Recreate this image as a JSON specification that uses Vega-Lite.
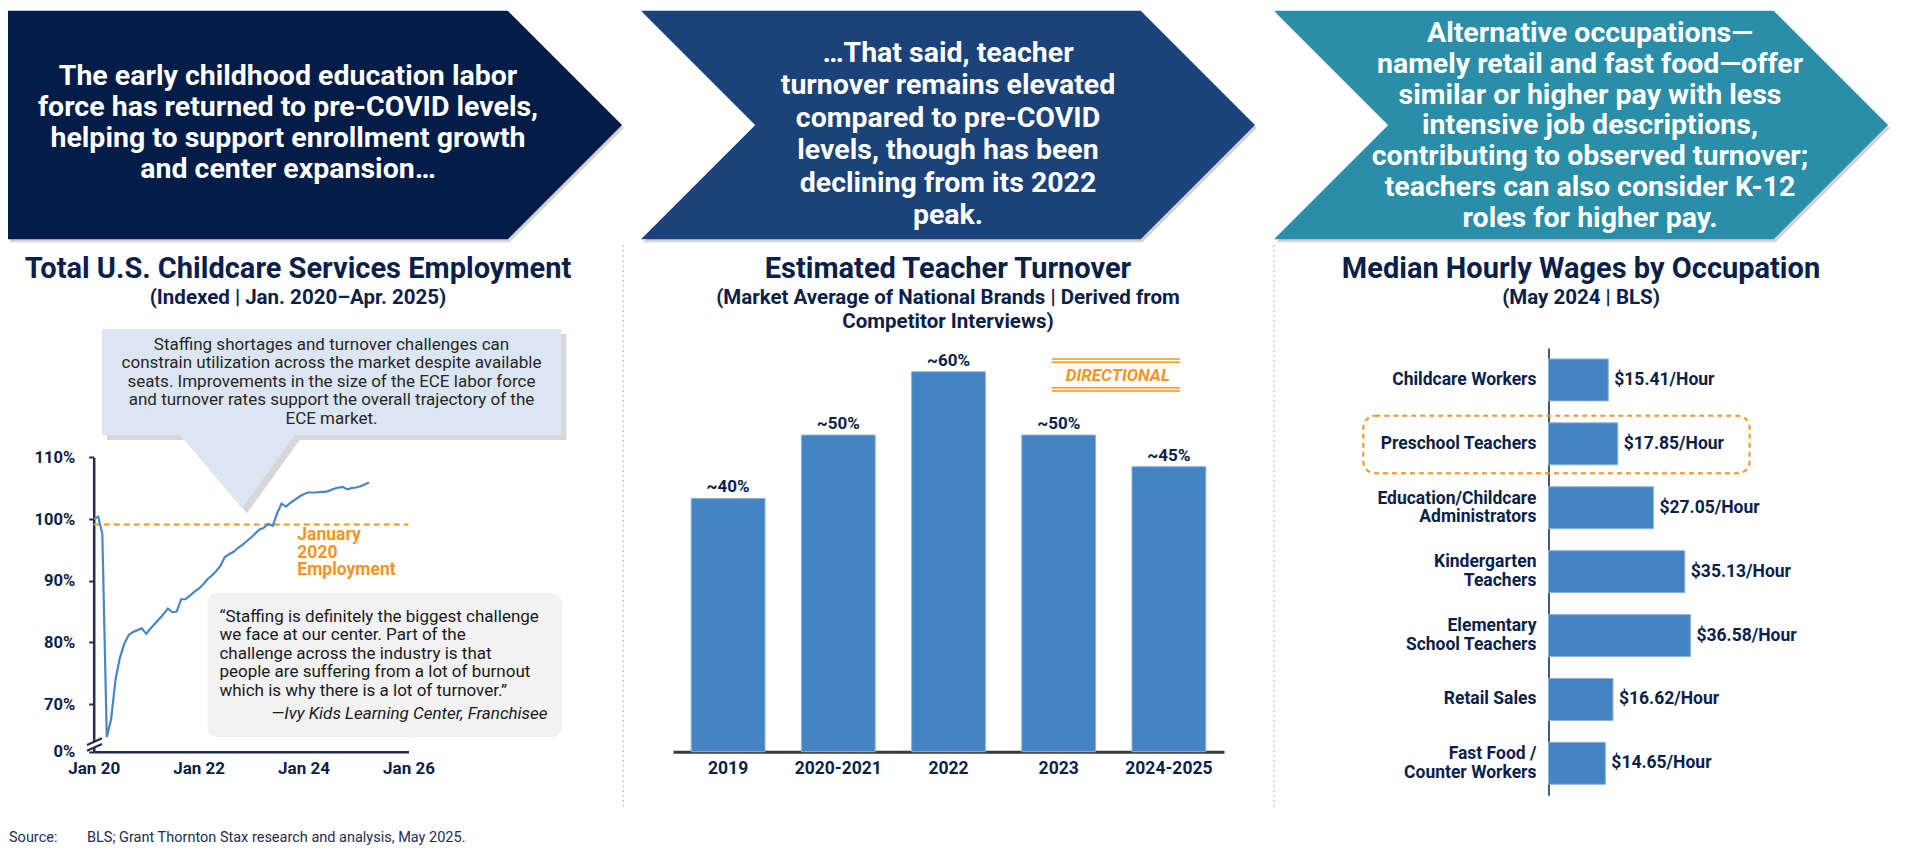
{
"$schema": "https://vega.github.io/schema/vega-lite/v6.json",
"width": 1920, "height": 855, "autosize": "none", "padding": 0, "background": "white",
"config": {"font": "Roboto", "view": {"stroke": null}, "axis": {"grid": false, "labelFont": "Roboto"}},
"resolve": {"scale": {"x": "independent", "y": "independent"}, "axis": {"x": "independent", "y": "independent"}},
"layer": [
{
"data": {"values": [{}]},
"layer": [
{"mark": {"type": "point", "shape": "M-1,-0.3723L0.6277,-0.3723L1,0L0.6277,0.3723L-1,0.3723Z", "size": 376996, "filled": true, "color": "#808080", "opacity": 0.35, "strokeWidth": 0, "xOffset": 2, "yOffset": 3},
 "encoding": {"x": {"datum": 315, "type": "quantitative", "scale": {"domain": [0,1920], "range": [0,1920], "nice": false, "zero": false}, "axis": null}, "y": {"datum": 125, "type": "quantitative", "scale": {"domain": [0,855], "range": [0,855], "nice": false, "zero": false}, "axis": null}}},
{"mark": {"type": "point", "shape": "M-1,-0.3723L0.6277,-0.3723L1,0L0.6277,0.3723L-1,0.3723L-0.6277,0Z", "size": 376996, "filled": true, "color": "#808080", "opacity": 0.35, "strokeWidth": 0, "xOffset": 2, "yOffset": 3},
 "encoding": {"x": {"datum": 948, "type": "quantitative", "scale": {"domain": [0,1920], "range": [0,1920], "nice": false, "zero": false}, "axis": null}, "y": {"datum": 125, "type": "quantitative", "scale": {"domain": [0,855], "range": [0,855], "nice": false, "zero": false}, "axis": null}}},
{"mark": {"type": "point", "shape": "M-1,-0.3723L0.6277,-0.3723L1,0L0.6277,0.3723L-1,0.3723L-0.6277,0Z", "size": 376996, "filled": true, "color": "#808080", "opacity": 0.35, "strokeWidth": 0, "xOffset": 2, "yOffset": 3},
 "encoding": {"x": {"datum": 1581, "type": "quantitative", "scale": {"domain": [0,1920], "range": [0,1920], "nice": false, "zero": false}, "axis": null}, "y": {"datum": 125, "type": "quantitative", "scale": {"domain": [0,855], "range": [0,855], "nice": false, "zero": false}, "axis": null}}},
{"mark": {"type": "point", "shape": "M-1,-0.3723L0.6277,-0.3723L1,0L0.6277,0.3723L-1,0.3723Z", "size": 376996, "filled": true, "color": "#031c48", "opacity": 1, "strokeWidth": 0},
 "encoding": {"x": {"datum": 315, "type": "quantitative", "scale": {"domain": [0,1920], "range": [0,1920], "nice": false, "zero": false}, "axis": null}, "y": {"datum": 125, "type": "quantitative", "scale": {"domain": [0,855], "range": [0,855], "nice": false, "zero": false}, "axis": null}}},
{"mark": {"type": "point", "shape": "M-1,-0.3723L0.6277,-0.3723L1,0L0.6277,0.3723L-1,0.3723L-0.6277,0Z", "size": 376996, "filled": true, "color": "#1b4279", "opacity": 1, "strokeWidth": 0},
 "encoding": {"x": {"datum": 948, "type": "quantitative", "scale": {"domain": [0,1920], "range": [0,1920], "nice": false, "zero": false}, "axis": null}, "y": {"datum": 125, "type": "quantitative", "scale": {"domain": [0,855], "range": [0,855], "nice": false, "zero": false}, "axis": null}}},
{"mark": {"type": "point", "shape": "M-1,-0.3723L0.6277,-0.3723L1,0L0.6277,0.3723L-1,0.3723L-0.6277,0Z", "size": 376996, "filled": true, "color": "#2a8ea8", "opacity": 1, "strokeWidth": 0},
 "encoding": {"x": {"datum": 1581, "type": "quantitative", "scale": {"domain": [0,1920], "range": [0,1920], "nice": false, "zero": false}, "axis": null}, "y": {"datum": 125, "type": "quantitative", "scale": {"domain": [0,855], "range": [0,855], "nice": false, "zero": false}, "axis": null}}},
{"mark": {"type": "text", "text": ["The early childhood education labor", "force has returned to pre-COVID levels,", "helping to support enrollment growth", "and center expansion…"], "align": "center", "baseline": "alphabetic", "lineHeight": 31, "fontSize": 28.5, "fontWeight": "bold", "color": "#ffffff"},
 "encoding": {"x": {"datum": 288, "type": "quantitative", "scale": {"domain": [0,1920], "range": [0,1920], "nice": false, "zero": false}, "axis": null}, "y": {"datum": 85, "type": "quantitative", "scale": {"domain": [0,855], "range": [0,855], "nice": false, "zero": false}, "axis": null}}},
{"mark": {"type": "text", "text": ["…That said, teacher", "turnover remains elevated", "compared to pre-COVID", "levels, though has been", "declining from its 2022", "peak."], "align": "center", "baseline": "alphabetic", "lineHeight": 32.4, "fontSize": 28.5, "fontWeight": "bold", "color": "#ffffff"},
 "encoding": {"x": {"datum": 948, "type": "quantitative", "scale": {"domain": [0,1920], "range": [0,1920], "nice": false, "zero": false}, "axis": null}, "y": {"datum": 62, "type": "quantitative", "scale": {"domain": [0,855], "range": [0,855], "nice": false, "zero": false}, "axis": null}}},
{"mark": {"type": "text", "text": ["Alternative occupations—", "namely retail and fast food—offer", "similar or higher pay with less", "intensive job descriptions,", "contributing to observed turnover;", "teachers can also consider K-12", "roles for higher pay."], "align": "center", "baseline": "alphabetic", "lineHeight": 30.8, "fontSize": 28.5, "fontWeight": "bold", "color": "#ffffff"},
 "encoding": {"x": {"datum": 1590, "type": "quantitative", "scale": {"domain": [0,1920], "range": [0,1920], "nice": false, "zero": false}, "axis": null}, "y": {"datum": 42, "type": "quantitative", "scale": {"domain": [0,855], "range": [0,855], "nice": false, "zero": false}, "axis": null}}},
{"mark": {"type": "text", "text": "Total U.S. Childcare Services Employment", "align": "center", "baseline": "alphabetic", "fontSize": 29, "fontWeight": "bold", "color": "#0b1f4a"},
 "encoding": {"x": {"datum": 298, "type": "quantitative", "scale": {"domain": [0,1920], "range": [0,1920], "nice": false, "zero": false}, "axis": null}, "y": {"datum": 277.7, "type": "quantitative", "scale": {"domain": [0,855], "range": [0,855], "nice": false, "zero": false}, "axis": null}}},
{"mark": {"type": "text", "text": "Estimated Teacher Turnover", "align": "center", "baseline": "alphabetic", "fontSize": 29, "fontWeight": "bold", "color": "#0b1f4a"},
 "encoding": {"x": {"datum": 948, "type": "quantitative", "scale": {"domain": [0,1920], "range": [0,1920], "nice": false, "zero": false}, "axis": null}, "y": {"datum": 277.7, "type": "quantitative", "scale": {"domain": [0,855], "range": [0,855], "nice": false, "zero": false}, "axis": null}}},
{"mark": {"type": "text", "text": "Median Hourly Wages by Occupation", "align": "center", "baseline": "alphabetic", "fontSize": 29, "fontWeight": "bold", "color": "#0b1f4a"},
 "encoding": {"x": {"datum": 1581, "type": "quantitative", "scale": {"domain": [0,1920], "range": [0,1920], "nice": false, "zero": false}, "axis": null}, "y": {"datum": 277.7, "type": "quantitative", "scale": {"domain": [0,855], "range": [0,855], "nice": false, "zero": false}, "axis": null}}},
{"mark": {"type": "text", "text": "(Indexed | Jan. 2020–Apr. 2025)", "align": "center", "baseline": "alphabetic", "fontSize": 20.5, "fontWeight": "bold", "color": "#0b1f4a"},
 "encoding": {"x": {"datum": 298, "type": "quantitative", "scale": {"domain": [0,1920], "range": [0,1920], "nice": false, "zero": false}, "axis": null}, "y": {"datum": 303.5, "type": "quantitative", "scale": {"domain": [0,855], "range": [0,855], "nice": false, "zero": false}, "axis": null}}},
{"mark": {"type": "text", "text": ["(Market Average of National Brands | Derived from", "Competitor Interviews)"], "align": "center", "baseline": "alphabetic", "lineHeight": 23.5, "fontSize": 20.5, "fontWeight": "bold", "color": "#0b1f4a"},
 "encoding": {"x": {"datum": 948, "type": "quantitative", "scale": {"domain": [0,1920], "range": [0,1920], "nice": false, "zero": false}, "axis": null}, "y": {"datum": 304, "type": "quantitative", "scale": {"domain": [0,855], "range": [0,855], "nice": false, "zero": false}, "axis": null}}},
{"mark": {"type": "text", "text": "(May 2024 | BLS)", "align": "center", "baseline": "alphabetic", "fontSize": 20.5, "fontWeight": "bold", "color": "#0b1f4a"},
 "encoding": {"x": {"datum": 1581, "type": "quantitative", "scale": {"domain": [0,1920], "range": [0,1920], "nice": false, "zero": false}, "axis": null}, "y": {"datum": 303.5, "type": "quantitative", "scale": {"domain": [0,855], "range": [0,855], "nice": false, "zero": false}, "axis": null}}},
{"mark": {"type": "rule", "color": "#c4c4c4", "strokeWidth": 1.3, "strokeDash": [2, 3]},
 "encoding": {"x": {"datum": 623.3, "type": "quantitative", "scale": {"domain": [0,1920], "range": [0,1920], "nice": false, "zero": false}, "axis": null}, "y": {"datum": 245, "type": "quantitative", "scale": {"domain": [0,855], "range": [0,855], "nice": false, "zero": false}, "axis": null}, "y2": {"datum": 808}}},
{"mark": {"type": "rule", "color": "#c4c4c4", "strokeWidth": 1.3, "strokeDash": [2, 3]},
 "encoding": {"x": {"datum": 1274, "type": "quantitative", "scale": {"domain": [0,1920], "range": [0,1920], "nice": false, "zero": false}, "axis": null}, "y": {"datum": 245, "type": "quantitative", "scale": {"domain": [0,855], "range": [0,855], "nice": false, "zero": false}, "axis": null}, "y2": {"datum": 808}}},
{"mark": {"type": "point", "shape": "M-0.919,-0.284L0.919,-0.284L0.919,0.14L-0.1486,0.14L-0.359,0.4332L-0.607,0.14L-0.919,0.14Z", "size": 250000, "filled": true, "color": "#a6a6a6", "opacity": 0.45, "strokeWidth": 0, "xOffset": 5, "yOffset": 5},
 "encoding": {"x": {"datum": 331.75, "type": "quantitative", "scale": {"domain": [0,1920], "range": [0,1920], "nice": false, "zero": false}, "axis": null}, "y": {"datum": 400, "type": "quantitative", "scale": {"domain": [0,855], "range": [0,855], "nice": false, "zero": false}, "axis": null}}},
{"mark": {"type": "point", "shape": "M-0.919,-0.284L0.919,-0.284L0.919,0.14L-0.1486,0.14L-0.359,0.4332L-0.607,0.14L-0.919,0.14Z", "size": 250000, "filled": true, "color": "#dce6f2", "opacity": 1, "strokeWidth": 0},
 "encoding": {"x": {"datum": 331.75, "type": "quantitative", "scale": {"domain": [0,1920], "range": [0,1920], "nice": false, "zero": false}, "axis": null}, "y": {"datum": 400, "type": "quantitative", "scale": {"domain": [0,855], "range": [0,855], "nice": false, "zero": false}, "axis": null}}},
{"mark": {"type": "text", "text": ["Staffing shortages and turnover challenges can", "constrain utilization across the market despite available", "seats. Improvements in the size of the ECE labor force", "and turnover rates support the overall trajectory of the", "ECE market."], "align": "center", "baseline": "alphabetic", "lineHeight": 18.6, "fontSize": 17, "color": "#262626"},
 "encoding": {"x": {"datum": 331.5, "type": "quantitative", "scale": {"domain": [0,1920], "range": [0,1920], "nice": false, "zero": false}, "axis": null}, "y": {"datum": 349.5, "type": "quantitative", "scale": {"domain": [0,855], "range": [0,855], "nice": false, "zero": false}, "axis": null}}},
{"mark": {"type": "rect", "color": "#a6a6a6", "opacity": 0.45, "cornerRadius": 9, "xOffset": 4, "yOffset": 4},
 "encoding": {"x": {"datum": 207.6, "type": "quantitative", "scale": {"domain": [0,1920], "range": [0,1920], "nice": false, "zero": false}, "axis": null}, "x2": {"datum": 561.5}, "y": {"datum": 593.3, "type": "quantitative", "scale": {"domain": [0,855], "range": [0,855], "nice": false, "zero": false}, "axis": null}, "y2": {"datum": 736.7}}},
{"mark": {"type": "rect", "color": "#f2f2f2", "opacity": 1, "cornerRadius": 9},
 "encoding": {"x": {"datum": 207.6, "type": "quantitative", "scale": {"domain": [0,1920], "range": [0,1920], "nice": false, "zero": false}, "axis": null}, "x2": {"datum": 561.5}, "y": {"datum": 593.3, "type": "quantitative", "scale": {"domain": [0,855], "range": [0,855], "nice": false, "zero": false}, "axis": null}, "y2": {"datum": 736.7}}},
{"mark": {"type": "text", "text": ["“Staffing is definitely the biggest challenge", "we face at our center. Part of the", "challenge across the industry is that", "people are suffering from a lot of burnout", "which is why there is a lot of turnover.”"], "align": "left", "baseline": "alphabetic", "lineHeight": 18.6, "fontSize": 17, "color": "#1a1a1a"},
 "encoding": {"x": {"datum": 219.4, "type": "quantitative", "scale": {"domain": [0,1920], "range": [0,1920], "nice": false, "zero": false}, "axis": null}, "y": {"datum": 621.5, "type": "quantitative", "scale": {"domain": [0,855], "range": [0,855], "nice": false, "zero": false}, "axis": null}}},
{"mark": {"type": "text", "text": "—Ivy Kids Learning Center, Franchisee", "align": "right", "baseline": "alphabetic", "fontSize": 17, "fontStyle": "italic", "color": "#1a1a1a"},
 "encoding": {"x": {"datum": 547.6, "type": "quantitative", "scale": {"domain": [0,1920], "range": [0,1920], "nice": false, "zero": false}, "axis": null}, "y": {"datum": 719, "type": "quantitative", "scale": {"domain": [0,855], "range": [0,855], "nice": false, "zero": false}, "axis": null}}},
{"mark": {"type": "text", "text": ["January", "2020", "Employment"], "align": "left", "baseline": "alphabetic", "lineHeight": 17.5, "fontSize": 17.5, "fontWeight": "bold", "color": "#f7941e"},
 "encoding": {"x": {"datum": 297.3, "type": "quantitative", "scale": {"domain": [0,1920], "range": [0,1920], "nice": false, "zero": false}, "axis": null}, "y": {"datum": 540, "type": "quantitative", "scale": {"domain": [0,855], "range": [0,855], "nice": false, "zero": false}, "axis": null}}},
{"mark": {"type": "point", "shape": "M-1,0.07L1,-0.83L1,-0.07L-1,0.83Z", "size": 225, "filled": true, "color": "#ffffff", "opacity": 1, "strokeWidth": 0},
 "encoding": {"x": {"datum": 94.5, "type": "quantitative", "scale": {"domain": [0,1920], "range": [0,1920], "nice": false, "zero": false}, "axis": null}, "y": {"datum": 744.5, "type": "quantitative", "scale": {"domain": [0,855], "range": [0,855], "nice": false, "zero": false}, "axis": null}}},
{"mark": {"type": "point", "shape": "M-1,0.07L1,-0.83M-1,0.83L1,-0.07", "size": 225, "filled": false, "color": "#1f2d50", "opacity": 1, "strokeWidth": 2},
 "encoding": {"x": {"datum": 94.5, "type": "quantitative", "scale": {"domain": [0,1920], "range": [0,1920], "nice": false, "zero": false}, "axis": null}, "y": {"datum": 744.5, "type": "quantitative", "scale": {"domain": [0,855], "range": [0,855], "nice": false, "zero": false}, "axis": null}}},
{"mark": {"type": "point", "shape": "M-1,-0.2494L1,-0.2494M-1,-0.198L1,-0.198M-1,0.198L1,0.198M-1,0.2494L1,0.2494", "size": 16461, "filled": false, "color": "#f7941e", "opacity": 1, "strokeWidth": 1.6},
 "encoding": {"x": {"datum": 1115.85, "type": "quantitative", "scale": {"domain": [0,1920], "range": [0,1920], "nice": false, "zero": false}, "axis": null}, "y": {"datum": 375, "type": "quantitative", "scale": {"domain": [0,855], "range": [0,855], "nice": false, "zero": false}, "axis": null}}},
{"mark": {"type": "text", "text": "DIRECTIONAL", "align": "center", "baseline": "alphabetic", "fontSize": 17, "fontWeight": "bold", "fontStyle": "italic", "color": "#f7941e"},
 "encoding": {"x": {"datum": 1117.8, "type": "quantitative", "scale": {"domain": [0,1920], "range": [0,1920], "nice": false, "zero": false}, "axis": null}, "y": {"datum": 380.5, "type": "quantitative", "scale": {"domain": [0,855], "range": [0,855], "nice": false, "zero": false}, "axis": null}}},
{"mark": {"type": "rect", "fill": null, "filled": false, "stroke": "#f7941e", "strokeWidth": 2, "strokeDash": [5, 4], "cornerRadius": 12, "opacity": 1},
 "encoding": {"x": {"datum": 1363.3, "type": "quantitative", "scale": {"domain": [0,1920], "range": [0,1920], "nice": false, "zero": false}, "axis": null}, "x2": {"datum": 1749.6}, "y": {"datum": 415.7, "type": "quantitative", "scale": {"domain": [0,855], "range": [0,855], "nice": false, "zero": false}, "axis": null}, "y2": {"datum": 473.3}}},
{"mark": {"type": "text", "text": "Source:", "align": "left", "baseline": "alphabetic", "fontSize": 14.5, "color": "#1f2d50"},
 "encoding": {"x": {"datum": 9, "type": "quantitative", "scale": {"domain": [0,1920], "range": [0,1920], "nice": false, "zero": false}, "axis": null}, "y": {"datum": 842, "type": "quantitative", "scale": {"domain": [0,855], "range": [0,855], "nice": false, "zero": false}, "axis": null}}},
{"mark": {"type": "text", "text": "BLS; Grant Thornton Stax research and analysis, May 2025.", "align": "left", "baseline": "alphabetic", "fontSize": 14.5, "color": "#1f2d50"},
 "encoding": {"x": {"datum": 87, "type": "quantitative", "scale": {"domain": [0,1920], "range": [0,1920], "nice": false, "zero": false}, "axis": null}, "y": {"datum": 842, "type": "quantitative", "scale": {"domain": [0,855], "range": [0,855], "nice": false, "zero": false}, "axis": null}}}
]
},
{
"data": {"values": [
{"date": "2020-01-01", "value": 100.0}, {"date": "2020-02-01", "value": 100.4}, {"date": "2020-03-01", "value": 97.6}, {"date": "2020-04-01", "value": 64.7},
{"date": "2020-05-01", "value": 67.5}, {"date": "2020-06-01", "value": 74.0}, {"date": "2020-07-01", "value": 77.5}, {"date": "2020-08-01", "value": 79.8},
{"date": "2020-09-01", "value": 81.2}, {"date": "2020-10-01", "value": 81.7}, {"date": "2020-11-01", "value": 82.0}, {"date": "2020-12-01", "value": 82.3},
{"date": "2021-01-01", "value": 81.4}, {"date": "2021-02-01", "value": 82.3}, {"date": "2021-03-01", "value": 83.0}, {"date": "2021-04-01", "value": 83.8},
{"date": "2021-05-01", "value": 84.6}, {"date": "2021-06-01", "value": 85.5}, {"date": "2021-07-01", "value": 84.9}, {"date": "2021-08-01", "value": 85.0},
{"date": "2021-09-01", "value": 87.0}, {"date": "2021-10-01", "value": 87.0}, {"date": "2021-11-01", "value": 87.6}, {"date": "2021-12-01", "value": 88.2},
{"date": "2022-01-01", "value": 88.7}, {"date": "2022-02-01", "value": 89.4}, {"date": "2022-03-01", "value": 90.2}, {"date": "2022-04-01", "value": 90.8},
{"date": "2022-05-01", "value": 91.5}, {"date": "2022-06-01", "value": 92.4}, {"date": "2022-07-01", "value": 93.8}, {"date": "2022-08-01", "value": 94.3},
{"date": "2022-09-01", "value": 94.7}, {"date": "2022-10-01", "value": 95.3}, {"date": "2022-11-01", "value": 95.8}, {"date": "2022-12-01", "value": 96.4},
{"date": "2023-01-01", "value": 97.0}, {"date": "2023-02-01", "value": 97.7}, {"date": "2023-03-01", "value": 98.3}, {"date": "2023-04-01", "value": 98.6},
{"date": "2023-05-01", "value": 99.2}, {"date": "2023-06-01", "value": 98.9}, {"date": "2023-07-01", "value": 100.9}, {"date": "2023-08-01", "value": 102.5},
{"date": "2023-09-01", "value": 102.0}, {"date": "2023-10-01", "value": 102.6}, {"date": "2023-11-01", "value": 103.1}, {"date": "2023-12-01", "value": 103.6},
{"date": "2024-01-01", "value": 104.0}, {"date": "2024-02-01", "value": 104.3}, {"date": "2024-03-01", "value": 104.3}, {"date": "2024-04-01", "value": 104.3},
{"date": "2024-05-01", "value": 104.4}, {"date": "2024-06-01", "value": 104.4}, {"date": "2024-07-01", "value": 104.6}, {"date": "2024-08-01", "value": 104.9},
{"date": "2024-09-01", "value": 105.1}, {"date": "2024-10-01", "value": 105.2}, {"date": "2024-11-01", "value": 104.8}, {"date": "2024-12-01", "value": 105.0},
{"date": "2025-01-01", "value": 105.1}, {"date": "2025-02-01", "value": 105.3}, {"date": "2025-03-01", "value": 105.6}, {"date": "2025-04-01", "value": 105.9}
]},
"layer": [
{"data": {"values": [{}]},
 "mark": {"type": "rule", "color": "#f7941e", "strokeWidth": 2, "strokeDash": [6, 4]},
 "encoding": {
  "x": {"datum": {"year": 2020, "month": 1, "date": 1, "utc": true}, "type": "temporal"},
  "x2": {"datum": {"year": 2026, "month": 1, "date": 1, "utc": true}},
  "y": {"datum": 99.1, "type": "quantitative"}}},
{"mark": {"type": "line", "color": "#4a86c5", "strokeWidth": 2.2},
 "encoding": {
  "x": {"field": "date", "type": "temporal",
   "scale": {"type": "utc", "domain": [{"year": 2020, "month": 1, "date": 1, "utc": true}, {"year": 2026, "month": 1, "date": 1, "utc": true}], "range": [93.7, 408.5], "nice": false},
   "axis": {"orient": "bottom", "offset": -103.3, "values": [{"year": 2020, "month": 1, "date": 1, "utc": true}, {"year": 2022, "month": 1, "date": 1, "utc": true}, {"year": 2024, "month": 1, "date": 1, "utc": true}, {"year": 2026, "month": 1, "date": 1, "utc": true}], "labelExpr": "'Jan ' + utcFormat(datum.value, '%y')", "ticks": false, "labelPadding": 9, "labelFontSize": 17, "labelFontWeight": "bold", "labelColor": "#0b1f4a", "domainColor": "#1f2d50", "domainWidth": 2.5, "title": null, "grid": false, "labelFlush": false, "labelOverlap": false}},
  "y": {"field": "value", "type": "quantitative",
   "scale": {"domain": [62.3, 110], "range": [751.7, 457.3], "nice": false, "zero": false},
   "axis": {"orient": "left", "offset": -93.7, "values": [62.3, 70, 80, 90, 100, 110], "labelExpr": "datum.value < 65 ? '0%' : format(datum.value, 'd') + '%'", "tickSize": 5, "tickWidth": 2, "tickColor": "#1f2d50", "labelPadding": 14, "labelFontSize": 16.5, "labelFontWeight": "bold", "labelColor": "#0b1f4a", "domainColor": "#1f2d50", "domainWidth": 2.5, "title": null, "grid": false, "labelFlush": false, "labelOverlap": false}}}}
]
},
{
"data": {"values": [
{"period": "2019", "value": 40, "label": "~40%"},
{"period": "2020-2021", "value": 50, "label": "~50%"},
{"period": "2022", "value": 60, "label": "~60%"},
{"period": "2023", "value": 50, "label": "~50%"},
{"period": "2024-2025", "value": 45, "label": "~45%"}
]},
"layer": [
{"mark": {"type": "bar", "color": "#4584c3", "stroke": "#8db4de", "strokeWidth": 1},
 "encoding": {
  "x": {"field": "period", "type": "nominal", "sort": null, "scale": {"range": [673, 1224], "paddingInner": 0.33, "paddingOuter": 0.165},
   "axis": {"orient": "bottom", "offset": -103.3, "ticks": false, "labelPadding": 7.5, "labelFontSize": 17.5, "labelFontWeight": "bold", "labelColor": "#0b1f4a", "domainColor": "#3a3a3a", "domainWidth": 3, "title": null, "labelAngle": 0}},
  "y": {"field": "value", "type": "quantitative", "scale": {"domain": [0, 60], "range": [751.7, 371.7], "nice": false}, "axis": null}}},
{"mark": {"type": "text", "baseline": "alphabetic", "dy": -6, "fontSize": 17, "fontWeight": "bold", "color": "#0b1f4a"},
 "encoding": {
  "x": {"field": "period", "type": "nominal", "sort": null},
  "y": {"field": "value", "type": "quantitative"},
  "text": {"field": "label"}}}
]
},
{
"data": {"values": [
{"occupation": "Childcare Workers", "wage": 15.41, "label": "$15.41/Hour"},
{"occupation": "Preschool Teachers", "wage": 17.85, "label": "$17.85/Hour"},
{"occupation": "Education/Childcare|Administrators", "wage": 27.05, "label": "$27.05/Hour"},
{"occupation": "Kindergarten|Teachers", "wage": 35.13, "label": "$35.13/Hour"},
{"occupation": "Elementary|School Teachers", "wage": 36.58, "label": "$36.58/Hour"},
{"occupation": "Retail Sales", "wage": 16.62, "label": "$16.62/Hour"},
{"occupation": "Fast Food /|Counter Workers", "wage": 14.65, "label": "$14.65/Hour"}
]},
"layer": [
{"mark": {"type": "bar", "color": "#4584c3", "stroke": "#8db4de", "strokeWidth": 1},
 "encoding": {
  "y": {"field": "occupation", "type": "nominal", "sort": null, "scale": {"range": [348, 795.3], "paddingInner": 0.343, "paddingOuter": 0.1715},
   "axis": {"orient": "left", "offset": -1548.5, "ticks": false, "labelPadding": 12.5, "labelExpr": "split(datum.label, '|')", "labelOffset": {"condition": {"test": "indexof(datum.value, '|') >= 0", "value": -9.2}, "value": 0}, "labelLineHeight": 18.4, "labelFontSize": 17.5, "labelFontWeight": "bold", "labelColor": "#0b1f4a", "labelLimit": 0, "domainColor": "#0b1f4a", "domainWidth": 1.5, "title": null}},
  "x": {"field": "wage", "type": "quantitative", "scale": {"domain": [0, 40], "range": [1548.5, 1703.7], "nice": false}, "axis": null}}},
{"mark": {"type": "text", "align": "left", "baseline": "middle", "dx": 6, "fontSize": 17.5, "fontWeight": "bold", "color": "#0b1f4a"},
 "encoding": {
  "y": {"field": "occupation", "type": "nominal", "sort": null},
  "x": {"field": "wage", "type": "quantitative"},
  "text": {"field": "label"}}}
]
}
]
}
